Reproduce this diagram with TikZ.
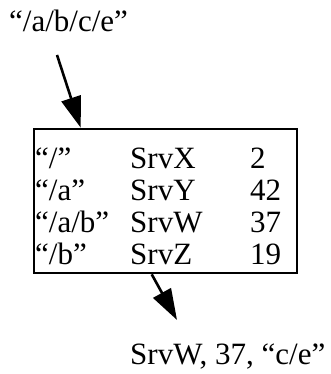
\documentclass[tikz,border=0pt]{standalone}
\usepackage{fontspec}
\setmainfont{Liberation Serif}
\usetikzlibrary{arrows.meta}

\begin{document}
\begin{tikzpicture}[
  x=1pt, y=1pt,
  font=\fontsize{31}{33}\selectfont,
  txt/.style={inner sep=0pt, anchor=base west},
  tbl/.style={draw, line width=2.6pt, minimum width=263pt, minimum height=144pt, inner sep=0pt},
  arr/.style={-{Triangle[length=31pt,width=20pt]}, line width=2.6pt},
]
\useasboundingbox (0,0) rectangle (330,374);
% lookup key and result
\node[txt] (key) at (9,342) {“/a/b/c/e”};
\node[txt] (res) at (130,9.5) {SrvW, 37, “c/e”};
% prefix table
\node[tbl] (table) at (165.5,173) {};
\node[txt] (p1) at (35,205.5) {“/”};
\node[txt] (p2) at (35,173.5) {“/a”};
\node[txt] (p3) at (35,141.5) {“/a/b”};
\node[txt] (p4) at (35,109.5) {“/b”};
\node[txt] (s1) at (130,205.5) {SrvX};
\node[txt] (s2) at (130,173.5) {SrvY};
\node[txt] (s3) at (130,141.5) {SrvW};
\node[txt] (s4) at (130,109.5) {SrvZ};
\node[txt] (n1) at (250,205.5) {2};
\node[txt] (n2) at (250,173.5) {42};
\node[txt] (n3) at (250,141.5) {37};
\node[txt] (n4) at (250,109.5) {19};
% arrow ends
\coordinate (kout) at (57,319);
\coordinate (tin)  at ([xshift=48pt]table.north west);
\coordinate (tout) at ([xshift=119pt]table.south west);
\coordinate (rin)  at (177,54);
\draw[arr] (kout) -- (tin);
\draw[arr] (tout) -- (rin);
\end{tikzpicture}
\end{document}
